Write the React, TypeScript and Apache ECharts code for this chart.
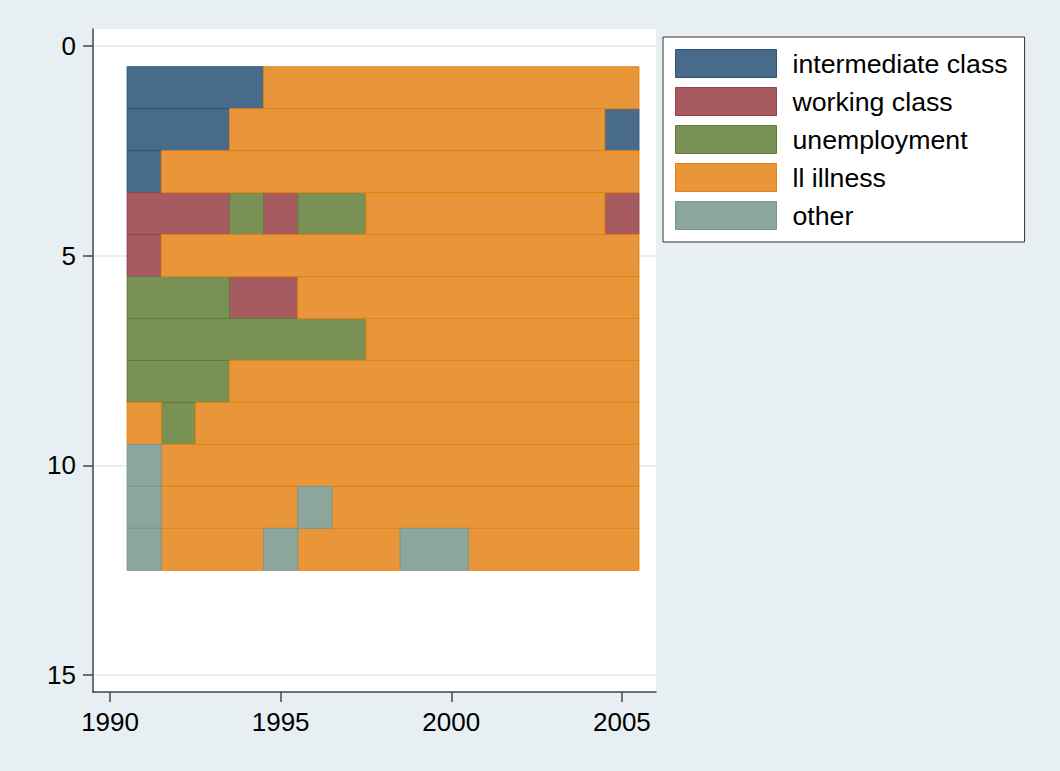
import React, { useEffect, useRef } from "react";
import * as echarts from "echarts";

// years covered by each sequence
const years = [1991, 1992, 1993, 1994, 1995, 1996, 1997, 1998, 1999, 2000, 2001, 2002, 2003, 2004, 2005];

// state labels (legend order) and colours
const stateNames = ["intermediate class", "working class", "unemployment", "ll illness", "other"];
const stateFill = ["#486a8b", "#a65b60", "#7a9155", "#e9963a", "#8ca69b"];
const stateStroke = ["#2e5479", "#94414a", "#5f7c3b", "#e5820d", "#76988b"];

// sequences: state index (1..5) per year, one row per sequence
const seq1 = [1, 1, 1, 1, 4, 4, 4, 4, 4, 4, 4, 4, 4, 4, 4];
const seq2 = [1, 1, 1, 4, 4, 4, 4, 4, 4, 4, 4, 4, 4, 4, 1];
const seq3 = [1, 4, 4, 4, 4, 4, 4, 4, 4, 4, 4, 4, 4, 4, 4];
const seq4 = [2, 2, 2, 3, 2, 3, 3, 4, 4, 4, 4, 4, 4, 4, 2];
const seq5 = [2, 4, 4, 4, 4, 4, 4, 4, 4, 4, 4, 4, 4, 4, 4];
const seq6 = [3, 3, 3, 2, 2, 4, 4, 4, 4, 4, 4, 4, 4, 4, 4];
const seq7 = [3, 3, 3, 3, 3, 3, 3, 4, 4, 4, 4, 4, 4, 4, 4];
const seq8 = [3, 3, 3, 4, 4, 4, 4, 4, 4, 4, 4, 4, 4, 4, 4];
const seq9 = [4, 3, 4, 4, 4, 4, 4, 4, 4, 4, 4, 4, 4, 4, 4];
const seq10 = [5, 4, 4, 4, 4, 4, 4, 4, 4, 4, 4, 4, 4, 4, 4];
const seq11 = [5, 4, 4, 4, 4, 5, 4, 4, 4, 4, 4, 4, 4, 4, 4];
const seq12 = [5, 4, 4, 4, 5, 4, 4, 4, 5, 5, 4, 4, 4, 4, 4];
const sequences = [seq1, seq2, seq3, seq4, seq5, seq6, seq7, seq8, seq9, seq10, seq11, seq12];

// axis ticks
const xTicks = [1990, 1995, 2000, 2005];
const yTicks = [0, 5, 10, 15];

// run-length spells per state: [startYear, endYear, row]
function spellsFor(state: number): number[][] {
  const out: number[][] = [];
  sequences.forEach((s, r) => {
    let i = 0;
    while (i < s.length) {
      let j = i;
      while (j + 1 < s.length && s[j + 1] === s[i]) j++;
      if (s[i] === state) out.push([years[i], years[j], r + 1]);
      i = j + 1;
    }
  });
  return out;
}

const FONT = "'Liberation Sans', Arial, Helvetica, sans-serif";

export default function App() {
  const ref = useRef<HTMLDivElement>(null);
  useEffect(() => {
    if (!ref.current) return;
    const chart = echarts.init(ref.current, undefined, { renderer: "svg" });
    const series = stateNames.map((name, k) => ({
      type: "custom",
      name,
      data: spellsFor(k + 1),
      encode: { x: [0, 1], y: 2 },
      renderItem: (params: any, api: any) => {
        const a = api.coord([api.value(0) - 0.5, api.value(2) - 0.5]);
        const b = api.coord([api.value(1) + 0.5, api.value(2) + 0.5]);
        const x = Math.min(a[0], b[0]);
        const y = Math.min(a[1], b[1]);
        return {
          type: "rect",
          shape: { x, y, width: Math.abs(b[0] - a[0]), height: Math.abs(b[1] - a[1]) },
          style: { fill: stateFill[k], stroke: stateStroke[k], lineWidth: 1 },
        };
      },
      itemStyle: { color: stateFill[k], borderColor: stateStroke[k], borderWidth: 1 },
    }));
    chart.setOption({
      animation: false,
      backgroundColor: "#e8eff2",
      textStyle: { fontFamily: FONT },
      grid: {
        left: 93,
        right: 404,
        top: 29,
        bottom: 79,
        show: true,
        backgroundColor: "#ffffff",
        borderWidth: 0,
      },
      legend: {
        orient: "vertical",
        left: 663,
        top: 37,
        padding: [12, 17, 12, 12],
        itemWidth: 101,
        itemHeight: 28,
        itemGap: 9,
        backgroundColor: "#ffffff",
        borderColor: "#333333",
        borderWidth: 1,
        selectedMode: false,
        textStyle: { fontSize: 26.7, color: "#000", fontFamily: FONT, padding: [0, 0, 0, 11] },
        data: stateNames.map((name, k) => ({
          name,
          icon: "rect",
          itemStyle: { color: stateFill[k], borderColor: stateStroke[k], borderWidth: 1 },
        })),
      },
      xAxis: {
        type: "value",
        min: 1989.5,
        max: 2006,
        axisLine: { show: true, onZero: false, lineStyle: { color: "#444", width: 1.5 } },
        axisTick: { show: true, customValues: xTicks, length: 10, lineStyle: { color: "#444", width: 1.5 } },
        axisLabel: {
          customValues: xTicks,
          fontSize: 26,
          color: "#000",
          margin: 17,
          fontFamily: FONT,
          formatter: (v: number) => String(v),
        },
        splitLine: { show: false },
      },
      yAxis: {
        type: "value",
        inverse: true,
        min: -0.4,
        max: 15.4,
        axisLine: { show: true, onZero: false, lineStyle: { color: "#444", width: 1.5 } },
        axisTick: { show: true, customValues: yTicks, length: 10, lineStyle: { color: "#444", width: 1.5 } },
        axisLabel: {
          customValues: yTicks,
          fontSize: 26,
          color: "#000",
          margin: 17,
          fontFamily: FONT,
          formatter: (v: number) => String(v),
        },
        splitLine: { show: true, lineStyle: { color: "#e8eff2", width: 2 } },
      },
      series,
    });
    return () => chart.dispose();
  }, []);
  return (
    <div
      ref={ref}
      style={{ position: "fixed", left: 0, top: 0, width: 1060, height: 771 }}
    />
  );
}
